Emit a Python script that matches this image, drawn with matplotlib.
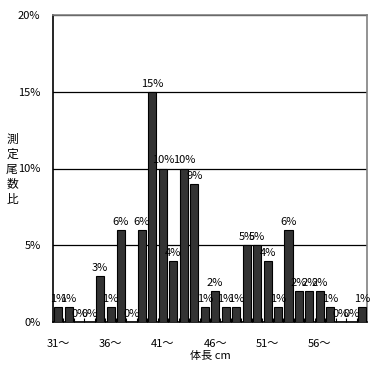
import numpy as np
import matplotlib
matplotlib.use('Agg')
import matplotlib.pyplot as plt

plt.rcParams['font.family'] = ['Noto Sans CJK JP', 'DejaVu Sans']

# body length classes (cm) and share of measured fish (%)
lengths = list(range(31, 61))
share = [1, 1, 0, 0, 3, 1, 6, 0, 6, 15,
         10, 4, 10, 9, 1, 2, 1, 1, 5, 5,
         4, 1, 6, 2, 2, 2, 1, 0, 0, 1]
yticks = [0, 5, 10, 15, 20]
ylabel = '測定尾数比'

W, H = 382, 367
fig = plt.figure(figsize=(W / 100, H / 100), dpi=100)
ax = fig.add_axes([53 / W, (H - 322) / H, (367 - 53) / W, (322 - 15) / H])

x = np.arange(len(lengths))
ax.bar(x, share, width=0.77, color='#333333', edgecolor='black', linewidth=0.8, zorder=3)
for xi, v in zip(x, share):
    ax.text(xi, v + 0.2, f'{v}%', ha='center', va='bottom', fontsize=8, zorder=4)

ax.set_xlim(-0.5, len(lengths) - 0.5)
ax.set_ylim(0, 20)
ax.set_yticks(yticks)
ax.set_yticklabels([f'{t}%' for t in yticks], fontsize=8)
ax.yaxis.grid(True, color='black', linewidth=0.9, zorder=0)
ax.tick_params(axis='y', length=0, pad=9)

major = [i for i, L in enumerate(lengths) if (L - 31) % 5 == 0 and L < 60]
ax.set_xticks(major)
ax.set_xticklabels([f'{lengths[i]}～' for i in major], fontsize=8)
ax.set_xticks(np.arange(0.5, len(lengths) - 0.5, 1), minor=True)
ax.tick_params(axis='x', which='major', length=0, pad=12)
ax.tick_params(axis='x', which='minor', direction='in', length=3, width=0.8)

for s in ['top', 'right']:
    ax.spines[s].set_color('#808080')
    ax.spines[s].set_linewidth(1.2)
for s in ['left', 'bottom']:
    ax.spines[s].set_color('black')
    ax.spines[s].set_linewidth(1.2)

ax.set_xlabel('体長 cm', fontsize=8, labelpad=2)

# vertical stacked y label, one character per line
for k, ch in enumerate(ylabel):
    fig.text(12 / W, 1 - (139 + 15 * k) / H, ch, ha='center', va='center', fontsize=8.5)

fig.savefig('out.png', dpi=100)
